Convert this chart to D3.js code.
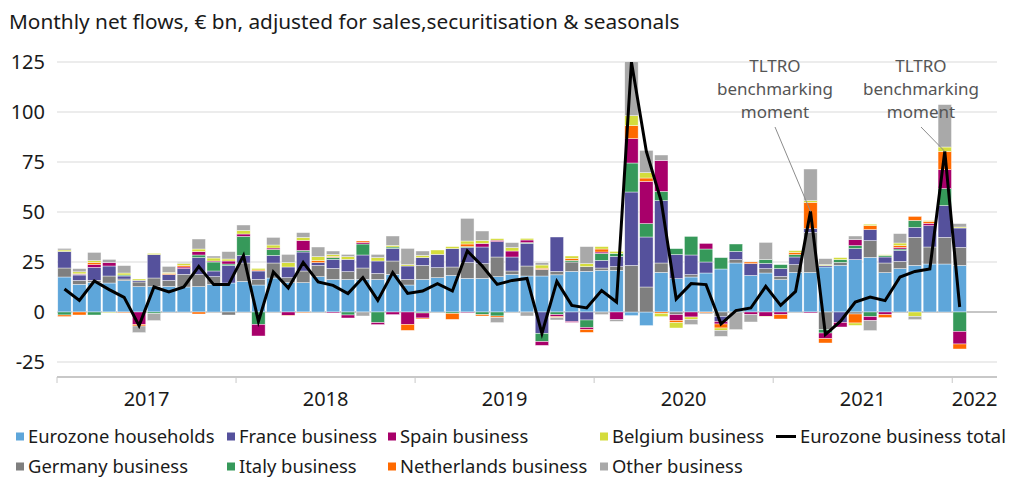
<!DOCTYPE html>
<html>
<head>
<meta charset="utf-8">
<script src="https://cdn.jsdelivr.net/npm/d3@7/dist/d3.min.js"></script>
<style>
  body { margin: 0; background: #fff; }
  svg { display: block; }
  text { font-family: "Noto Sans", Lato, sans-serif; fill: #1a1a1a; }
</style>
</head>
<body>
<svg id="chart" width="1024" height="492"></svg>
<script>
var d3 = globalThis.d3;

// categories: Jan 2017 .. Mar 2022 (data up to Jan 2022)
const months = d3.timeMonth.range(new Date(2017, 0, 1), new Date(2022, 3, 1)).map(d3.timeFormat("%Y-%m"));
const years = ["2017", "2018", "2019", "2020", "2021", "2022"];
const yTicks = [-25, 0, 25, 50, 75, 100, 125];

// series values, € bn
const households = [17.5, 13.8, 14.8, 14.5, 15.7, 12.7, 12.7, 12.8, 12.5, 12.7, 13.8, 14.5,
  15.3, 13.5, 17.0, 14.7, 14.7, 17.7, 16.3, 16.3, 16.3, 16.3, 18.8, 13.5,
  16.3, 17.2, 18.3, 16.8, 16.8, 17.7, 18.8, 18.0, 18.0, 18.6, 20.3, 20.3,
  20.8, 20.8, -1.8, -6.8, 19.8, 16.7, 17.5, 19.5, 21.5, 24.5, 18.3, 19.5,
  16.2, 19.8, 19.8, 22.5, 23.3, 26.2, 27.3, 19.7, 21.7, 23.3, 24.0, 24.0,
  23.3];
const germany = [4.5, 2.0, 1.0, 3.5, 0.8, 2.3, 4.3, 3.0, 6.3, 6.1, 3.9, -1.5,
  9.2, 2.8, 7.5, 2.5, 5.8, 5.6, 5.5, 3.9, 5.7, 3.0, 6.7, 2.8,
  7.0, 5.0, 4.2, 7.9, 7.4, 9.8, 1.7, 5.0, 3.3, 1.7, 4.7, 2.4,
  1.2, 1.9, 23.3, 12.5, 4.7, -1.3, 1.2, 0, -2.2, 1.7, 0, 2.2,
  1.6, 3.9, 20.0, -8.8, 1.5, -1.0, 8.4, 4.8, 3.6, 14.0, 8.5, 13.3,
  9.0];
const france = [8.3, 2.7, 6.5, 5.0, 1.5, 0.8, 11.7, 2.9, 2.9, 8.4, 2.8, 8.7,
  3.7, 4.2, 3.8, 5.3, 9.5, 1.4, 4.5, 6.1, 6.5, 6.2, 6.3, 6.7,
  3.9, 6.6, 9.2, 7.5, 8.3, 7.7, 7.0, 11.3, -10.7, 17.2, -4.7, -4.0,
  3.8, 5.1, 36.7, 25.0, 31.2, 12.0, 9.8, 5.5, -2.5, 4.1, 5.9, 2.6,
  3.9, 3.8, 1.9, 0.7, -5.2, 5.5, 5.5, 3.0, 5.5, 5.0, 10.7, 15.9,
  9.7];
const italy = [-1.5, 0.3, -1.5, 0, 0.5, 0, -0.8, 0, 0, 1.3, 4.5, 0.8,
  9.6, -6.2, 3.0, 0, 0.8, 0, 1.0, -1.5, 5.5, -5.3, 0.7, 0,
  -0.5, 0, -0.7, 0.5, -1.3, -2.0, 0, 0.4, -4.1, -1.3, 0.8, -3.7,
  3.5, 1.5, 14.5, 6.7, 4.6, 3.0, 9.3, 6.5, 5.7, 3.7, 0, 1.9,
  2.0, 1.2, 0, -1.7, 1.4, 1.5, -2.3, 0.8, 0.7, 3.5, 0, 8.5,
  -9.7];
const spain = [0, 0.3, 1.4, 1.7, 0, -6.2, 0, 0, 0.8, 1.7, 0.5, 1.5,
  1.2, -5.8, 0.7, -1.7, 5.0, 0, -0.5, -1.5, 0.8, -1.0, -1.3, -6.2,
  -2.5, 0, 0, -0.3, 1.8, 0.7, 3.0, 1.3, -1.9, -1.0, -0.5, -1.1,
  0.7, -3.8, 12.2, 21.1, 15.5, -2.9, -2.5, 2.8, -1.3, 0, -1.3, -2.2,
  -1.3, 0, -0.5, -2.8, -2.3, 3.0, -2.0, -1.3, 0.8, 0, 1.1, 9.5,
  -6.3];
const netherlands = [-0.8, -1.5, 1.1, 0, -0.3, -0.8, 0, 0.6, 0.8, -1.0, 0, 0,
  0, 0.5, 0, -0.3, -0.3, 1.0, 0.5, 0, 0.7, 0, 0, -3.0,
  -0.5, 0, -3.0, 1.3, -0.7, -0.8, 0, 0, 0.6, -0.5, 1.0, -1.4,
  1.5, 0, 6.5, 1.7, -0.7, -1.1, 0, -0.5, -2.0, 0, 0.8, 0,
  -2.2, 1.1, 13.1, -2.2, 0, -4.5, 2.0, -1.5, 0.9, 2.0, 1.0, 9.1,
  -2.5];
const belgium = [0.7, 1.0, 0.9, -0.3, 1.0, 0.7, 0.6, 0.5, 1.0, 1.3, 1.5, 1.0,
  1.8, 0.8, 1.5, 2.2, 1.5, 2.0, 0.9, 1.4, 0, 1.7, 0.8, 0.7,
  1.1, 2.2, 1.0, 1.5, 1.5, 0.8, 1.7, 0.8, 1.6, 0, 1.2, 1.5,
  1.2, 1.0, 5.0, 2.7, -1.6, -2.7, -1.3, 0, -1.2, 0, 0, -0.3,
  0, 0.9, 0.9, 0.5, 1.0, -1.2, 0.7, 0.3, 1.3, -2.2, 0.4, 2.2,
  0.5];
const other = [0.8, 1.6, 4.1, 1.6, 3.7, -3.3, -3.5, 3.0, 0.5, 5.0, 1.0, 3.7,
  2.7, 0, 3.8, 4.1, 2.4, 4.8, 1.8, 1.1, -2.0, 1.6, 4.7, 8.1,
  2.2, 0, 0, 11.3, 4.7, -2.5, 2.5, -2.0, 1.2, -1.2, 0, 8.5,
  -1.3, -0.9, 27.0, 11.1, 2.7, 0, -2.5, -0.5, -3.0, -8.8, -3.7, 8.6,
  0, 0, 15.8, 3.0, 0, 1.8, -5.0, 0, 4.7, -1.6, 0, 21.2,
  1.7];
const businessTotal = [11.5, 5.8, 15.5, 11.2, 7.3, -6.8, 12.5, 10.0, 12.5, 22.8, 13.7, 13.7,
  28.2, -4.7, 20.0, 12.0, 24.8, 15.0, 13.3, 9.2, 17.2, 5.8, 19.7, 9.3,
  10.5, 14.2, 10.5, 30.5, 23.0, 13.8, 15.8, 16.8, -10.7, 15.3, 3.3, 2.0,
  10.7, 5.0, 125.0, 80.3, 55.3, 6.5, 14.2, 13.7, -6.0, 0.7, 2.0, 12.8,
  3.3, 10.3, 50.3, -11.3, -4.7, 5.0, 7.5, 5.7, 17.5, 20.3, 21.5, 80.3,
  2.5];

// annotated months
const annotations = [
  { month: "2021-03", lines: ["TLTRO", "benchmarking", "moment"], cx: 775 },
  { month: "2021-12", lines: ["TLTRO", "benchmarking", "moment"], cx: 921 }
];

const series = [
  { key: "hh", name: "Eurozone households", values: households, color: "#5ea6da" },
  { key: "de", name: "Germany business", values: germany, color: "#7f7f7f" },
  { key: "fr", name: "France business", values: france, color: "#55519c" },
  { key: "it", name: "Italy business", values: italy, color: "#36995a" },
  { key: "es", name: "Spain business", values: spain, color: "#a8006a" },
  { key: "nl", name: "Netherlands business", values: netherlands, color: "#ff6a00" },
  { key: "be", name: "Belgium business", values: belgium, color: "#d4dc3c" },
  { key: "oth", name: "Other business", values: other, color: "#a9a9a9" }
];

const margin = { left: 57, right: 27, top: 62, bottom: 115 };
const width = 1024, height = 492;

const svg = d3.select("#chart");

const x = d3.scaleBand()
  .domain(months)
  .range([margin.left, width - margin.right])
  .paddingInner(0.1)
  .paddingOuter(0.05);

const y = d3.scaleLinear()
  .domain([-32.5, 125])
  .range([height - margin.bottom, margin.top]);

const gap = x.step() * x.paddingInner() / 2;

// title
svg.append("text")
  .attr("x", 9)
  .attr("y", 29)
  .style("font-size", "20.8px")
  .text("Monthly net flows, € bn, adjusted for sales,securitisation & seasonals");

// gridlines
svg.append("g")
  .selectAll("line")
  .data(yTicks.filter(d => d !== 0))
  .enter().append("line")
  .attr("x1", margin.left)
  .attr("x2", width - margin.right)
  .attr("y1", d => y(d))
  .attr("y2", d => y(d))
  .style("stroke", "#d9d9d9")
  .style("stroke-width", 1);

// zero line
svg.append("line")
  .attr("x1", margin.left)
  .attr("x2", width - margin.right)
  .attr("y1", y(0))
  .attr("y2", y(0))
  .style("stroke", "#8c8c8c")
  .style("stroke-width", 1);

// y tick labels
svg.append("g")
  .selectAll("text")
  .data(yTicks)
  .enter().append("text")
  .attr("x", 45)
  .attr("y", d => y(d))
  .attr("dy", "0.35em")
  .attr("text-anchor", "end")
  .style("font-size", "20px")
  .text(d => d);

// clip to the plotting area
svg.append("clipPath").attr("id", "plot-clip")
  .append("rect")
  .attr("x", margin.left)
  .attr("y", margin.top)
  .attr("width", width - margin.left - margin.right)
  .attr("height", height - margin.top - margin.bottom);

const rows = businessTotal.map((t, i) => {
  const r = { month: months[i] };
  series.forEach(s => { r[s.key] = s.values[i]; });
  return r;
});

const stack = d3.stack()
  .keys(series.map(s => s.key))
  .offset(d3.stackOffsetDiverging);

const stacked = stack(rows);

const bars = svg.append("g").attr("clip-path", "url(#plot-clip)");

bars.selectAll("g")
  .data(stacked)
  .enter().append("g")
  .style("fill", (d, i) => series[i].color)
  .selectAll("rect")
  .data(d => d.filter(p => p[1] !== p[0]))
  .enter().append("rect")
  .attr("x", p => x(p.data.month))
  .attr("width", x.bandwidth())
  .attr("y", p => y(Math.max(p[0], p[1])))
  .attr("height", p => Math.abs(y(p[0]) - y(p[1])))
  .style("stroke", "#ffffff")
  .style("stroke-width", 0.6)
  .style("stroke-opacity", 0.7);

// business total line
const line = d3.line()
  .x((d, i) => x(months[i]) + x.bandwidth() / 2)
  .y(d => y(d));

bars.append("path")
  .datum(businessTotal)
  .attr("d", line)
  .style("fill", "none")
  .style("stroke", "#000")
  .style("stroke-width", 3)
  .style("stroke-linejoin", "miter");

// x axis
const axisY = y.range()[0];
svg.append("line")
  .attr("x1", margin.left)
  .attr("x2", width - margin.right)
  .attr("y1", axisY)
  .attr("y2", axisY)
  .style("stroke", "#c8c8c8")
  .style("stroke-width", 2);

const yearStarts = years.map(yr => x(yr + "-01") - gap);

svg.append("g")
  .selectAll("line")
  .data(yearStarts)
  .enter().append("line")
  .attr("x1", d => d)
  .attr("x2", d => d)
  .attr("y1", axisY)
  .attr("y2", axisY + 6)
  .style("stroke", "#c8c8c8")
  .style("stroke-width", 1);

svg.append("g")
  .selectAll("text")
  .data(years)
  .enter().append("text")
  .attr("x", (d, i) => {
    const end = i < years.length - 1 ? yearStarts[i + 1] : x.range()[1];
    return (yearStarts[i] + end) / 2;
  })
  .attr("y", 406)
  .attr("text-anchor", "middle")
  .style("font-size", "20px")
  .text(d => d);

// annotations
const ann = svg.append("g");
annotations.forEach(a => {
  const i = months.indexOf(a.month);
  ann.append("line")
    .attr("x1", a.cx)
    .attr("y1", 127)
    .attr("x2", x(a.month) + x.bandwidth() / 2)
    .attr("y2", y(businessTotal[i]))
    .style("stroke", "#8c8c8c")
    .style("stroke-width", 1);
  ann.selectAll(null)
    .data(a.lines)
    .enter().append("text")
    .attr("x", a.cx)
    .attr("y", (d, k) => 72 + k * 23)
    .attr("text-anchor", "middle")
    .style("font-size", "17px")
    .style("fill", "#555")
    .text(d => d);
});

// legend
const legendItems = [
  { name: "Eurozone households", color: "#5ea6da", col: 0, row: 0 },
  { name: "France business", color: "#55519c", col: 1, row: 0 },
  { name: "Spain business", color: "#a8006a", col: 2, row: 0 },
  { name: "Belgium business", color: "#d4dc3c", col: 3, row: 0 },
  { name: "Eurozone business total", color: "#000", col: 4, row: 0, line: true },
  { name: "Germany business", color: "#7f7f7f", col: 0, row: 1 },
  { name: "Italy business", color: "#36995a", col: 1, row: 1 },
  { name: "Netherlands business", color: "#ff6a00", col: 2, row: 1 },
  { name: "Other business", color: "#a9a9a9", col: 3, row: 1 }
];
const legendCols = [16, 227, 388, 600, 776];
const legendRows = [442.5, 472.5];

const legend = svg.append("g")
  .selectAll("g")
  .data(legendItems)
  .enter().append("g")
  .attr("transform", d => "translate(" + legendCols[d.col] + "," + legendRows[d.row] + ")");

legend.filter(d => !d.line).append("rect")
  .attr("x", 0)
  .attr("y", -10)
  .attr("width", 8)
  .attr("height", 8)
  .style("fill", d => d.color);

legend.filter(d => d.line).append("line")
  .attr("x1", 0)
  .attr("x2", 20)
  .attr("y1", -6)
  .attr("y2", -6)
  .style("stroke", "#000")
  .style("stroke-width", 3);

legend.append("text")
  .attr("x", d => d.line ? 24 : 12)
  .attr("y", 0)
  .style("font-size", "18.4px")
  .text(d => d.name);
</script>
</body>
</html>
